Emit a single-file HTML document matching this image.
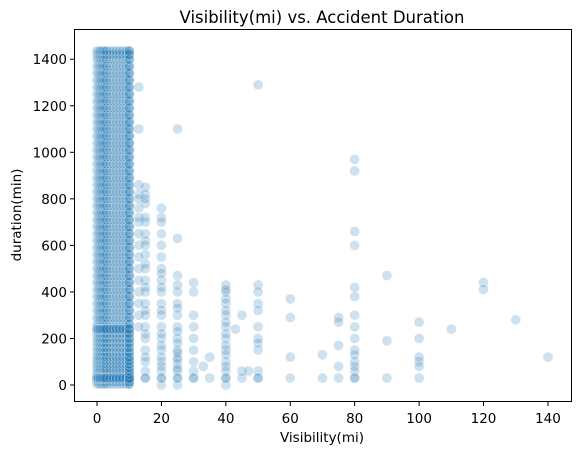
<!DOCTYPE html>
<html><head><meta charset="utf-8"><style>
body{margin:0;background:#fff;font-family:"Liberation Sans","DejaVu Sans",sans-serif}
</style></head><body>
<svg id="chart" width="580" height="455" xmlns="http://www.w3.org/2000/svg">
<rect width="580" height="455" fill="#fff"/>
<text x="322" y="23" font-size="16.5" text-anchor="middle" font-family="DejaVu Sans, sans-serif">Visibility(mi) vs. Accident Duration</text>
<g id="points"></g>
<rect x="74.5" y="29.5" width="497" height="372" fill="none" stroke="#000" stroke-width="1"/>
<g id="xt"></g>
<g id="yt"></g>
<text x="322" y="442" font-size="13.5" text-anchor="middle" font-family="DejaVu Sans, sans-serif">Visibility(mi)</text>
<text transform="translate(21,215) rotate(-90)" font-size="13.5" text-anchor="middle" font-family="DejaVu Sans, sans-serif">duration(min)</text>
</svg>
<script>
const xTicks=[0,20,40,60,80,100,120,140];
const yTicks=[0,200,400,600,800,1000,1200,1400];
const denseX=[0,0.5,1,1.5,2,2.5,3,4,5,6,7,8,9,10];
const denseY=[5,15,25,30,45,60,75,90,105,120,140,160,180,200,220,240,260,290,320,350,380,410,440,470,500,530,560,590,620,650,680,710,740,770,800,830,860,890,920,950,980,1010,1040,1070,1100,1130,1160,1190,1220,1250,1280,1310,1340,1370,1400,1420,1435];
const sparseX=[13,13,13,13,13,13,13,13,13,13,15,15,15,15,15,15,15,15,15,15,15,15,15,15,15,15,15,15,20,20,20,20,20,20,20,20,20,20,20,20,20,20,20,20,20,25,25,25,25,25,25,25,25,25,25,25,25,25,25,30,30,30,30,30,30,30,30,35,35,40,40,40,40,40,40,40,40,40,40,40,40,45,45,45,50,50,50,50,50,50,50,50,50,60,60,60,60,70,70,75,75,75,75,75,80,80,80,80,80,80,80,80,80,80,80,80,80,90,90,90,100,100,100,100,100,110,120,120,130,140,43,47,33,
13,13,13,13,13,13,13,15,15,15,15,15,15,15,15,15,20,20,20,20,20,20,20,20,20,25,25,25,25,25,25,25,25,40,40,40,40,40,40,40,40,50,50,50,30,30,80,80,80,100];
const sparseY=[1280,1100,860,820,760,700,600,500,400,300,850,820,780,700,650,600,560,500,450,400,350,300,250,200,150,100,60,30,760,720,650,600,550,500,450,400,350,300,250,200,150,100,60,30,0,1100,630,470,400,350,300,250,200,150,120,90,60,30,0,440,400,300,250,150,100,60,30,120,30,430,400,350,300,250,200,150,100,80,60,30,0,300,60,30,1290,430,400,350,250,200,150,60,30,370,290,120,30,130,30,290,270,170,80,30,970,920,660,600,420,380,300,250,200,150,100,60,30,470,190,30,270,200,100,80,30,240,440,410,280,120,240,60,80,
800,720,650,550,450,350,250,800,720,620,520,420,320,220,120,30,700,480,420,320,220,170,120,80,30,430,330,230,180,140,110,70,30,410,370,320,270,220,170,130,30,320,180,30,200,30,130,80,30,120];
const X=v=>97+v*3.221, Y=v=>385-v*0.2327;
const NS="http://www.w3.org/2000/svg";
const g=document.getElementById('points');
function dot(x,y,op){const c=document.createElementNS(NS,'circle');


c.setAttribute('cx',X(x));c.setAttribute('cy',Y(y));c.setAttribute('r',5);
c.setAttribute('fill','#1f77b4');c.setAttribute('fill-opacity',op);c.setAttribute('stroke','#fff');c.setAttribute('stroke-opacity',0.4);c.setAttribute('stroke-width',0.6);g.appendChild(c);}
denseX.forEach(x=>denseY.forEach(y=>dot(x,y,0.25)));
[30,240].forEach(y=>denseX.forEach(x=>dot(x,y,0.3)));
denseY.forEach(y=>dot(10,y,0.35));
sparseX.forEach((x,i)=>dot(x,sparseY[i],0.22));
const xt=document.getElementById('xt');
xTicks.forEach(t=>{const l=document.createElementNS(NS,'line');


l.setAttribute('x1',X(t));l.setAttribute('x2',X(t));l.setAttribute('y1',402);l.setAttribute('y2',406);l.setAttribute('stroke','#000');xt.appendChild(l);
const s=document.createElementNS(NS,'text');


s.setAttribute('x',X(t));s.setAttribute('y',423);s.setAttribute('font-size',13.5);s.setAttribute('text-anchor','middle');s.setAttribute('font-family','DejaVu Sans, sans-serif');s.textContent=t;xt.appendChild(s);});
const yt=document.getElementById('yt');
yTicks.forEach(t=>{const l=document.createElementNS(NS,'line');


l.setAttribute('x1',70);l.setAttribute('x2',74);l.setAttribute('y1',Y(t));l.setAttribute('y2',Y(t));l.setAttribute('stroke','#000');yt.appendChild(l);
const s=document.createElementNS(NS,'text');


s.setAttribute('x',67);s.setAttribute('y',Y(t)+5);s.setAttribute('font-size',13.5);s.setAttribute('text-anchor','end');s.setAttribute('font-family','DejaVu Sans, sans-serif');s.textContent=t;yt.appendChild(s);});
</script>
</body></html>
